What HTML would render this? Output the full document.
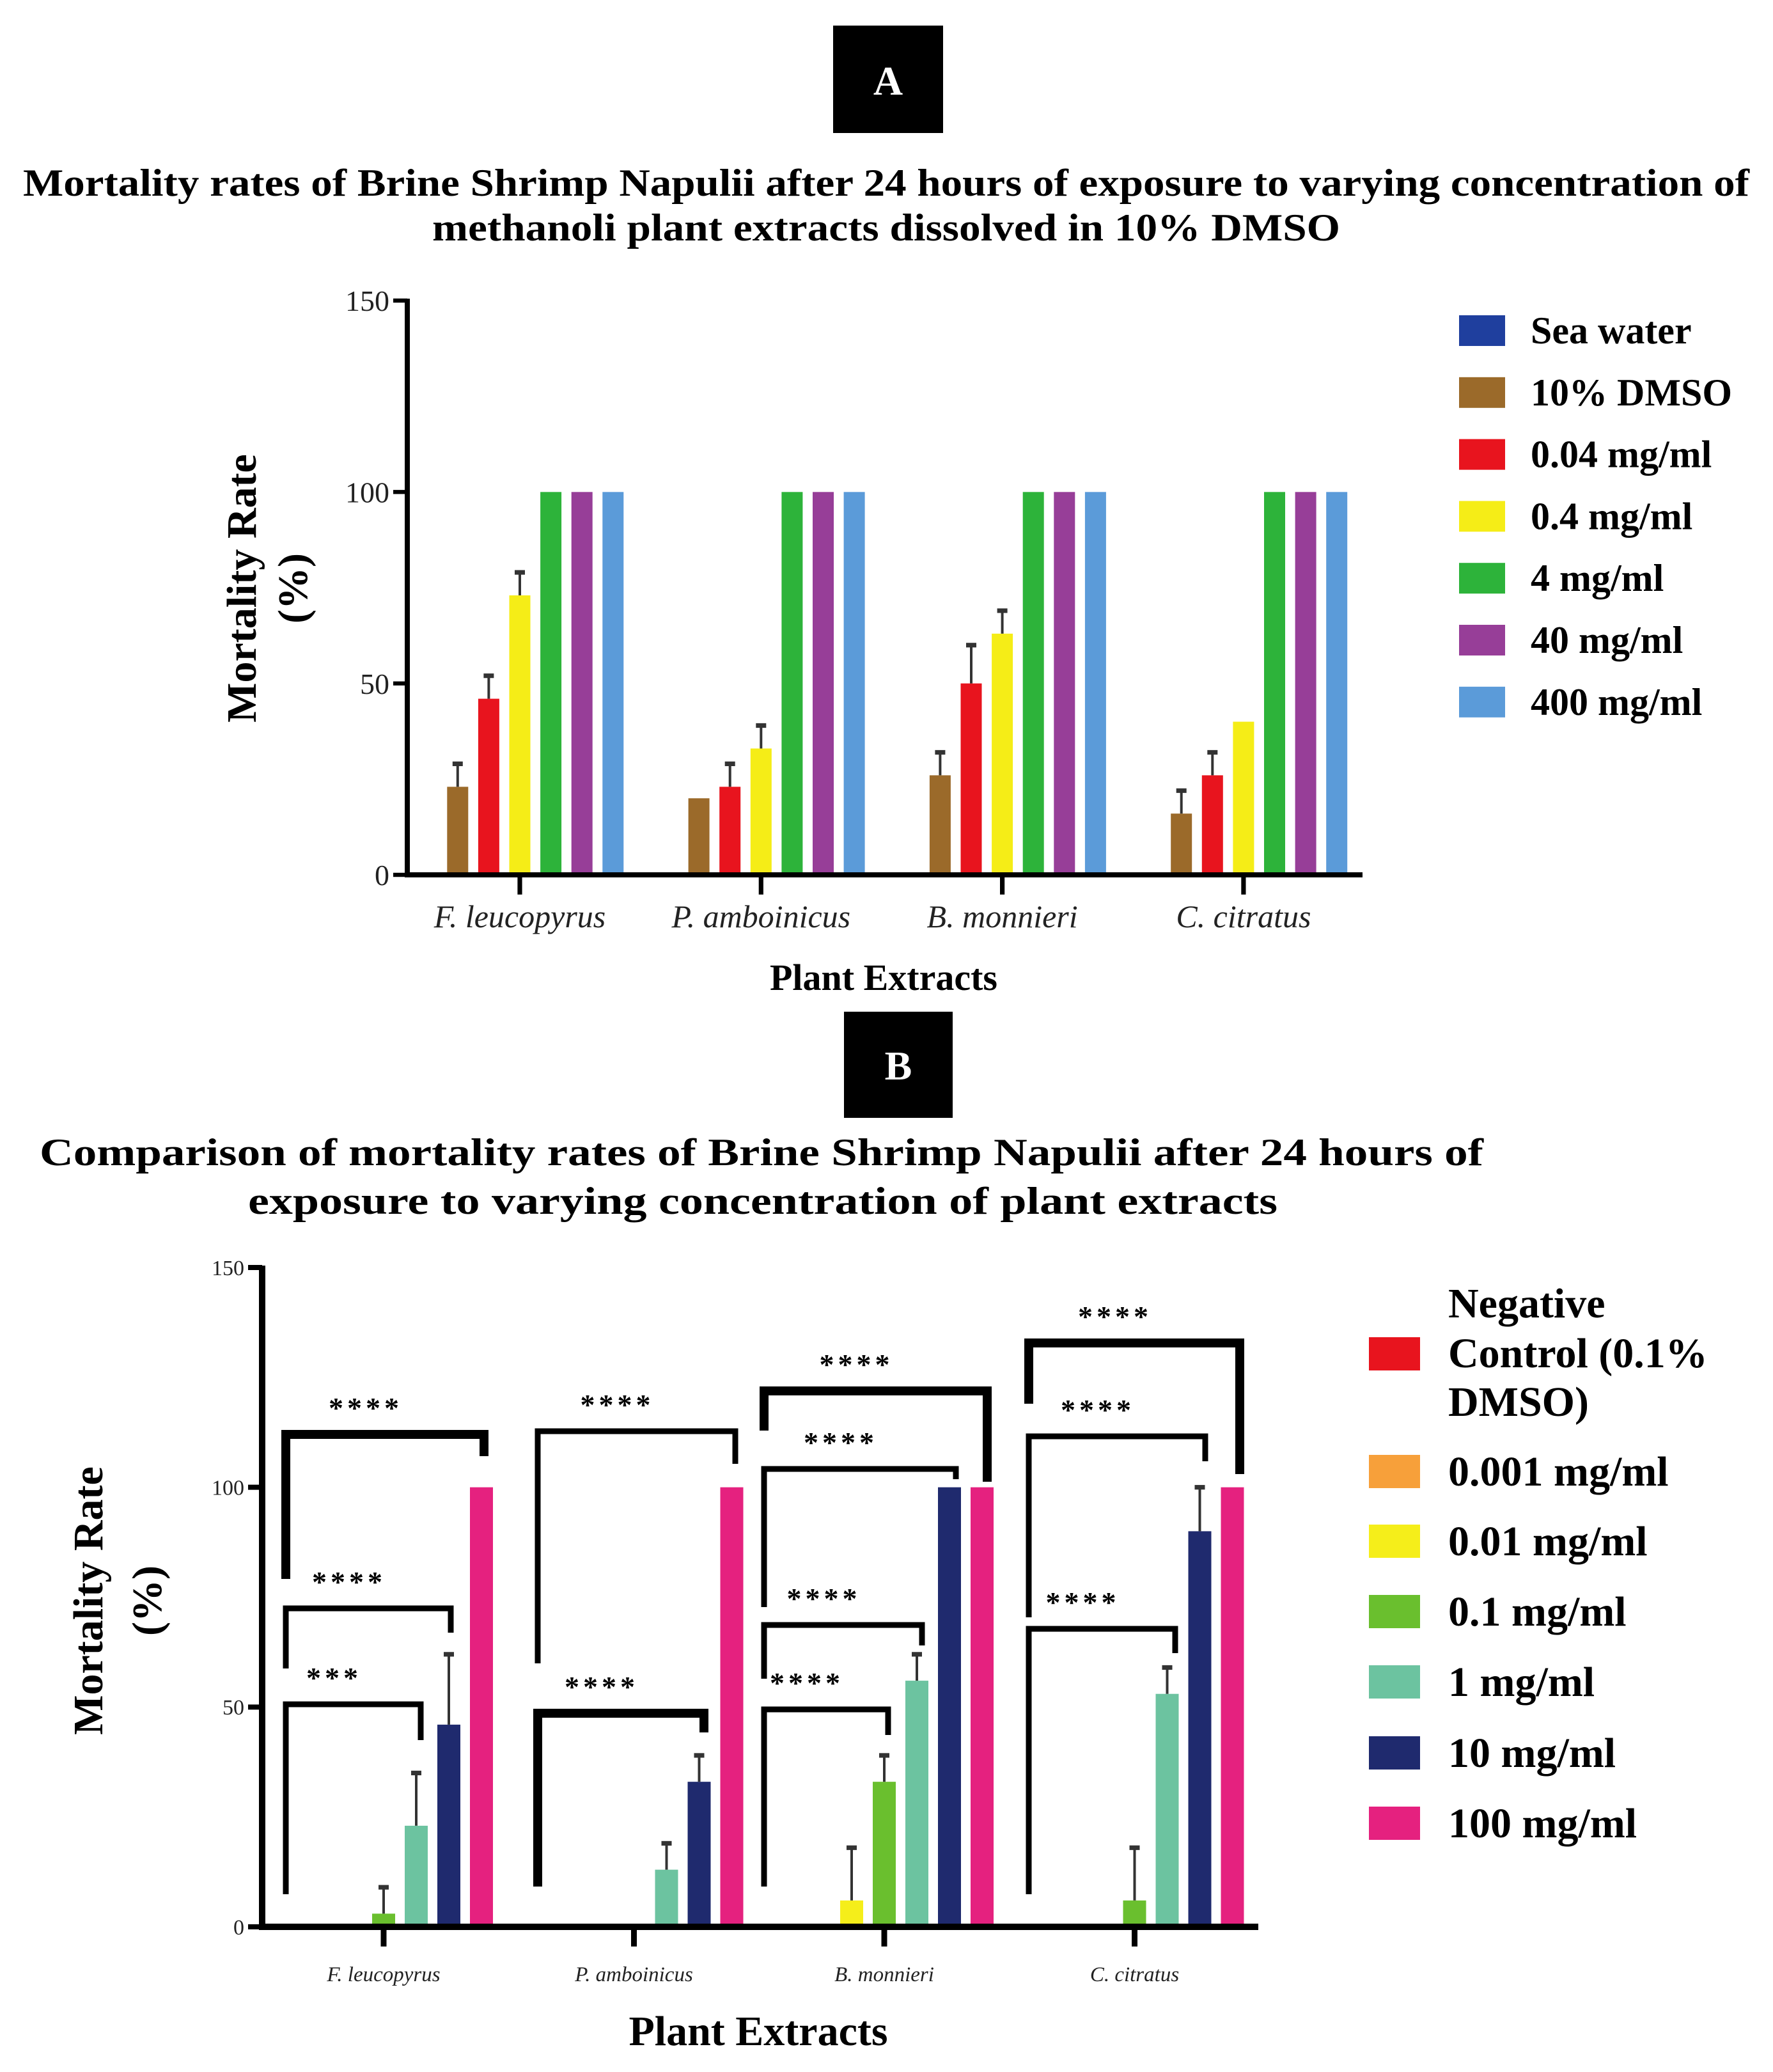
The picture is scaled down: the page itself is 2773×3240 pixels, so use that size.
<!DOCTYPE html>
<html><head><meta charset="utf-8"><style>
html,body{margin:0;padding:0;background:#fff}
svg{display:block}
text{font-family:"Liberation Serif",serif}
</style></head><body>
<svg id="fig" width="2773" height="3240" viewBox="0 0 2773 3240" xmlns="http://www.w3.org/2000/svg">
<g>
<rect x="1303" y="40" width="172" height="168" fill="#000"/>
<text x="1389" y="148" font-size="64" font-weight="bold" fill="#fff" text-anchor="middle">A</text>
<text x="36" y="306" font-size="60" font-weight="bold" textLength="2700" lengthAdjust="spacingAndGlyphs">Mortality rates of Brine Shrimp Napulii after 24 hours of exposure to varying concentration of</text>
<text x="676" y="376" font-size="60" font-weight="bold" textLength="1420" lengthAdjust="spacingAndGlyphs">methanoli plant extracts dissolved in 10% DMSO</text>
<g id="plotA"></g>
<text transform="translate(400,920) rotate(-90)" font-size="66" font-weight="bold" text-anchor="middle">Mortality Rate</text>
<text transform="translate(480,920) rotate(-90)" font-size="66" font-weight="bold" text-anchor="middle">(%)</text>
<text x="1382" y="1548" font-size="58" font-weight="bold" text-anchor="middle">Plant Extracts</text>
<g id="legendA"></g>
</g>
<g>
<rect x="1320" y="1582" width="170" height="166" fill="#000"/>
<text x="1405" y="1688" font-size="64" font-weight="bold" fill="#fff" text-anchor="middle">B</text>
<text x="62" y="1822" font-size="60" font-weight="bold" textLength="2258" lengthAdjust="spacingAndGlyphs">Comparison of mortality rates of Brine Shrimp Napulii after 24 hours of</text>
<text x="388" y="1898" font-size="60" font-weight="bold" textLength="1610" lengthAdjust="spacingAndGlyphs">exposure to varying concentration of plant extracts</text>
<g id="plotB"></g>
<text transform="translate(160,2503) rotate(-90)" font-size="66" font-weight="bold" text-anchor="middle">Mortality Rate</text>
<text transform="translate(252,2503) rotate(-90)" font-size="66" font-weight="bold" text-anchor="middle">(%)</text>
<text x="1186" y="3198" font-size="66" font-weight="bold" text-anchor="middle">Plant Extracts</text>
<g id="legendB"></g>
</g>
</svg>
<script>
// ---- Chart A data ----
const catsA = ["F. leucopyrus","P. amboinicus","B. monnieri","C. citratus"];
const seriesA = ["Sea water","10% DMSO","0.04 mg/ml","0.4 mg/ml","4 mg/ml","40 mg/ml","400 mg/ml"];
const colorsA = ["#1f3f9e","#9b6a2a","#e8141e","#f5ed17","#2db33a","#973e98","#5b9bd9"];
const valsA = [[0,23,46,73,100,100,100],[0,20,23,33,100,100,100],[0,26,50,63,100,100,100],[0,16,26,40,100,100,100]];
const errsA = [[0,29,52,79,0,0,0],[0,0,29,39,0,0,0],[0,32,60,69,0,0,0],[0,22,32,0,0,0,0]];
const ticksA = [0,50,100,150];
// ---- Chart B data ----
const catsB = ["F. leucopyrus","P. amboinicus","B. monnieri","C. citratus"];
const seriesB = ["Negative Control (0.1% DMSO)","0.001 mg/ml","0.01 mg/ml","0.1 mg/ml","1 mg/ml","10 mg/ml","100 mg/ml"];
const colorsB = ["#e8141e","#f7a03a","#f5ee1a","#6abf2e","#6cc3a0","#1f2a6e","#e5217f"];
const valsB = [[0,0,0,3,23,46,100],[0,0,0,0,13,33,100],[0,0,6,33,56,100,100],[0,0,0,6,53,90,100]];
const errsB = [[0,0,0,9,35,62,0],[0,0,0,0,19,39,0],[0,0,18,39,62,0,0],[0,0,0,18,59,100,0]];
const ticksB = [0,50,100,150];
// significance brackets: [x1,x2,topY,leftBottom,rightBottom,label,thick]
const bracketsB = [
 [447,658,2665,2962,2721,"***",0],[447,705,2515,2609,2553,"****",0],[447,757,2243,2469,2277,"****",1],
 [841,1101,2679,2950,2709,"****",1],[841,1150,2238,2601,2289,"****",0],
 [1195,1389,2673,2950,2713,"****",0],[1195,1442,2541,2625,2573,"****",0],[1195,1495,2297,2513,2313,"****",0],[1195,1544,2175,2237,2317,"****",1],
 [1609,1838,2547,2962,2585,"****",0],[1609,1885,2246,2529,2285,"****",0],[1609,1939,2100,2195,2305,"****",1]
];
const NS="http://www.w3.org/2000/svg";
function mk(parent,tag,attrs,txt){const e=document.createElementNS(NS,tag);for(const k in attrs)e.setAttribute(k,attrs[k]);if(txt!==undefined)e.textContent=txt;parent.appendChild(e);return e;}

function drawChart(g,o){
  const y=v=>o.y0-(v/150)*(o.y0-o.y150);
  const xc=i=>o.c0+i*o.cs;
  // bars
  o.vals.forEach((row,ci)=>{
    row.forEach((v,si)=>{
      const cx=xc(ci)+(si-3)*o.bs;
      if(v>0){
        const r=mk(g,'rect',{x:cx-o.bw/2,y:y(v),width:o.bw,height:o.y0-y(v),fill:o.colors[si]});
        
        
      }
      const e=o.errs[ci][si];
      if(e>0){
        const eg=mk(g,'g',{stroke:'#333','stroke-width':o.ew});
        
        
        mk(eg,'line',{x1:cx,x2:cx,y1:y(v),y2:y(e)});
        mk(eg,'line',{x1:cx-o.cap,x2:cx+o.cap,y1:y(e),y2:y(e),'stroke-width':o.ew*1.8});
      }
    });
  });
  // axes
  const ax=mk(g,'g',{stroke:'#000'});
  
  
  mk(ax,'line',{x1:o.ax,x2:o.ax,y1:y(150)-3,y2:o.y0+o.aw/2,'stroke-width':o.aw});
  mk(ax,'line',{x1:o.ax,x2:o.xend,y1:o.y0,y2:o.y0,'stroke-width':o.aw});
  o.ticks.forEach(t=>{
    mk(ax,'line',{x1:o.ax-o.tl,x2:o.ax,y1:y(t),y2:y(t),'stroke-width':o.aw*0.8});
    const tx=mk(g,'text',{x:o.ax-o.tl-6,y:y(t)+o.tf*0.35,'font-size':o.tf,'text-anchor':'end',fill:'#222'},String(t));
    
    
  });
  o.cats.forEach((c,i)=>{
    mk(ax,'line',{x1:xc(i),x2:xc(i),y1:o.y0,y2:o.y0+o.tl*1.4,'stroke-width':o.aw*0.9});
    const tx=mk(g,'text',{x:xc(i),y:o.xly,'font-size':o.xf,'font-style':'italic','text-anchor':'middle',fill:'#222'},c);
    
    
  });
}
drawChart(document.getElementById('plotA'),{vals:valsA,errs:errsA,colors:colorsA,cats:catsA,ticks:ticksA,
  y0:1368,y150:470,ax:637,xend:2131,c0:813,cs:377.3,bs:48.6,bw:33,ew:4,cap:8,aw:8,tl:22,tf:46,xf:50,xly:1450});
drawChart(document.getElementById('plotB'),{vals:valsB,errs:errsB,colors:colorsB,cats:catsB,ticks:ticksB,
  y0:3013,y150:1982,ax:410,xend:1968,c0:600,cs:391.5,bs:51,bw:36,ew:4,cap:8,aw:10,tl:22,tf:34,xf:33,xly:3098});

// brackets
const pb=document.getElementById('plotB');
bracketsB.forEach((b,i)=>{
  const g=mk(pb,'g',{});
  
  
  const w=b[6]?14:9;
  mk(g,'polyline',{points:`${b[0]},${b[3]} ${b[0]},${b[2]} ${b[1]},${b[2]} ${b[1]},${b[4]}`,fill:'none',stroke:'#000','stroke-width':w,'stroke-linejoin':'miter'});
  mk(g,'text',{x:(b[0]+b[1])/2-30,y:b[2]-26,'font-size':46,'font-weight':'bold','text-anchor':'middle','letter-spacing':'6'},b[5].replace(/\*/g,'*'));
});

// legends
const la=document.getElementById('legendA');
seriesA.forEach((s,i)=>{
  const g=mk(la,'g',{});
  
  
  const cy=517+i*96.8;
  mk(g,'rect',{x:2282,y:cy-24,width:72,height:48,fill:colorsA[i]});
  mk(g,'text',{x:2394,y:cy+20,'font-size':60,'font-weight':'bold'},s);
});
const lb=document.getElementById('legendB');
const lbY=[2117,2301,2410,2520,2630,2741,2851];
seriesB.forEach((s,i)=>{
  const g=mk(lb,'g',{});
  
  
  const cy=lbY[i];
  mk(g,'rect',{x:2141,y:cy-26,width:80,height:52,fill:colorsB[i]});
  if(i===0){
    mk(g,'text',{x:2265,y:2060,'font-size':66,'font-weight':'bold'},'Negative');
    mk(g,'text',{x:2265,y:2138,'font-size':66,'font-weight':'bold'},'Control (0.1%');
    mk(g,'text',{x:2265,y:2214,'font-size':66,'font-weight':'bold'},'DMSO)');
  } else {
    mk(g,'text',{x:2265,y:cy+22,'font-size':66,'font-weight':'bold'},s);
  }
});
</script>
</body></html>
